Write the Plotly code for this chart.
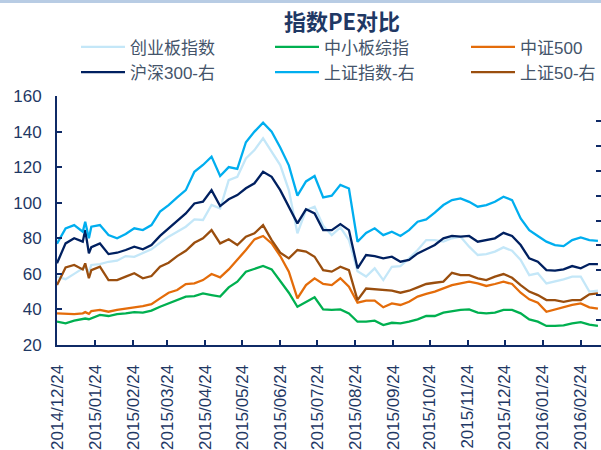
import plotly.graph_objects as go

# ---- data (readings from the reference picture, roughly weekly) ----
dates = [
    "2014-12-24", "2014-12-31", "2015-01-07", "2015-01-14", "2015-01-16", "2015-01-19",
    "2015-01-21", "2015-01-28",
    "2015-02-04", "2015-02-11", "2015-02-18", "2015-02-25", "2015-03-04", "2015-03-11",
    "2015-03-18", "2015-03-25", "2015-04-01", "2015-04-08", "2015-04-15", "2015-04-22",
    "2015-04-29", "2015-05-06", "2015-05-13", "2015-05-20", "2015-05-27", "2015-06-03",
    "2015-06-10", "2015-06-17", "2015-06-24", "2015-07-01", "2015-07-08", "2015-07-15",
    "2015-07-22", "2015-07-29", "2015-08-05", "2015-08-12", "2015-08-19", "2015-08-26",
    "2015-09-02", "2015-09-09", "2015-09-16", "2015-09-23", "2015-09-30", "2015-10-07",
    "2015-10-14", "2015-10-21", "2015-10-28", "2015-11-04", "2015-11-11", "2015-11-18",
    "2015-11-25", "2015-12-02", "2015-12-09", "2015-12-16", "2015-12-23", "2015-12-30",
    "2016-01-06", "2016-01-13", "2016-01-20", "2016-01-27", "2016-02-03", "2016-02-10",
    "2016-02-17", "2016-02-24", "2016-03-02", "2016-03-09",
]

# left axis series
chinext = [58.4, 57.0, 60.0, 63.0, 64.0, 61.0, 65.0, 65.5, 66.8, 67.4, 70.0, 69.6,
           71.9, 73.8, 77.5, 80.9, 83.7, 86.5, 90.6, 90.3, 98.7, 96.8,
           112.7, 114.6, 124.9, 129.6, 136.2, 128.7, 121.2, 107.1, 82.8, 95.9,
           97.8, 87.0, 81.8, 86.1, 79.0, 61.5, 58.5, 63.1, 56.5, 64.0,
           64.4, 68.7, 73.4, 79.0, 79.0, 78.1, 80.0, 80.9, 75.3, 70.6,
           71.1, 72.5, 74.9, 73.0, 67.8, 59.3, 60.3, 54.6, 55.6, 56.9,
           58.4, 58.4, 50.0, 50.5]
sme = [33.1, 32.2, 33.7, 34.8, 34.9, 34.5, 35.0, 36.9, 36.3, 37.4, 37.8, 38.5,
       38.2, 39.3, 41.5, 43.4, 44.9, 47.2, 47.5, 49.0, 48.1, 47.2,
       52.4, 55.6, 61.2, 62.9, 64.4, 62.5, 55.6, 49.4, 41.5, 44.3,
       46.8, 40.0, 39.7, 40.0, 37.8, 33.1, 33.1, 33.7, 31.2, 32.5,
       32.2, 33.1, 34.4, 36.3, 36.3, 38.2, 39.1, 39.7, 40.0, 38.2,
       37.8, 38.2, 39.7, 39.7, 37.8, 34.4, 33.1, 30.7, 30.7, 31.0,
       32.2, 32.9, 31.4, 30.7]
csi500 = [37.8, 37.4, 37.4, 37.8, 38.5, 37.5, 39.1, 39.7, 38.7, 39.7, 40.6, 41.2,
          41.9, 43.0, 46.2, 49.4, 50.9, 54.3, 54.7, 56.5, 59.9, 58.0,
          62.5, 67.8, 73.4, 79.4, 81.3, 77.1, 70.0, 61.2, 46.2, 53.7,
          57.5, 54.3, 53.7, 57.5, 52.8, 43.8, 45.0, 44.9, 41.2, 43.4,
          42.5, 44.3, 47.2, 48.7, 50.0, 51.8, 53.7, 54.7, 55.6, 54.7,
          53.2, 54.3, 55.6, 54.3, 49.4, 45.7, 43.8, 38.7, 40.0, 41.0,
          42.5, 43.4, 41.2, 40.4]

# right axis series
hs300_r = [10.57, 12.16, 12.57, 12.30, 13.23, 11.36, 11.86, 12.16, 11.30, 11.41, 11.63, 11.90,
           11.69, 12.03, 12.76, 13.37, 14.04, 14.57, 15.37, 15.51, 16.44, 15.16,
           15.70, 16.04, 16.59, 16.99, 17.91, 17.51, 16.44, 15.11, 13.77, 14.90,
           14.57, 13.23, 13.23, 13.71, 13.23, 10.16, 11.23, 11.14, 10.96, 11.09,
           10.69, 10.83, 11.36, 11.69, 12.03, 12.57, 12.76, 12.70, 12.76, 12.30,
           12.43, 12.57, 13.01, 12.76, 12.03, 10.96, 10.69, 10.01, 9.97, 10.07,
           10.34, 10.16, 10.50, 10.50]
sh_r = [12.14, 13.37, 13.63, 13.10, 13.90, 12.57, 13.50, 13.63, 12.83, 12.57, 12.91, 13.37,
        13.23, 13.63, 14.71, 15.24, 15.86, 16.44, 17.91, 18.46, 19.13, 17.57,
        18.29, 18.14, 20.29, 21.14, 21.86, 21.14, 19.86, 18.43, 16.00, 17.14,
        17.57, 15.86, 16.00, 16.86, 16.57, 12.29, 13.00, 13.37, 12.83, 13.10,
        12.76, 13.23, 13.90, 14.09, 14.63, 15.24, 15.64, 15.77, 15.50, 15.11,
        15.24, 15.51, 15.91, 15.64, 14.17, 13.23, 12.76, 12.30, 12.03, 11.94,
        12.43, 12.64, 12.43, 12.37]
sz50_r = [8.81, 10.23, 10.43, 10.07, 10.56, 9.36, 10.01, 10.29, 9.21, 9.21, 9.49, 9.76,
          9.36, 9.54, 10.29, 10.61, 11.14, 11.57, 12.21, 12.57, 13.23, 12.16,
          12.49, 12.03, 12.70, 12.97, 13.63, 12.43, 11.41, 10.96, 11.63, 11.50,
          11.09, 10.01, 9.89, 10.29, 10.01, 7.61, 8.54, 8.47, 8.41, 8.36,
          8.20, 8.36, 8.63, 8.90, 9.00, 9.09, 9.80, 9.61, 9.61, 9.36,
          9.21, 9.49, 9.70, 9.40, 8.81, 8.29, 8.01, 7.61, 7.61, 7.47,
          7.61, 7.61, 8.07, 8.14]

tick_dates = ["2014-12-24", "2015-01-24", "2015-02-24", "2015-03-24", "2015-04-24",
              "2015-05-24", "2015-06-24", "2015-07-24", "2015-08-24", "2015-09-24",
              "2015-10-24", "2015-11-24", "2015-12-24", "2016-01-24", "2016-02-24"]
tick_labels = ["2014/12/24", "2015/01/24", "2015/02/24", "2015/03/24", "2015/04/24",
               "2015/05/24", "2015/06/24", "2015/07/24", "2015/08/24", "2015/09/24",
               "2015/10/24", "2015/11/24", "2015/12/24", "2016/01/24", "2016/02/24"]

# ---- styling ----
FONT = "Liberation Sans, Arial, Noto Sans CJK SC, sans-serif"
NAVY = "#0F2A66"
TICKTXT = "#1F3864"
LEGTXT = "#44546A"

series = [
    ("创业板指数", chinext, "#C4E7F8", "y", "legend"),
    ("中小板综指", sme, "#00B050", "y", "legend2"),
    ("中证500", csi500, "#E46C0A", "y", "legend3"),
    ("沪深300-右", hs300_r, "#002060", "y2", "legend"),
    ("上证指数-右", sh_r, "#00AEEF", "y2", "legend2"),
    ("上证50-右", sz50_r, "#9A4E0E", "y2", "legend3"),
]

fig = go.Figure()
for i, (name, vals, color, yax, leg) in enumerate(series):
    fig.add_trace(go.Scatter(
        x=dates, y=vals, name=name, mode="lines",
        line=dict(color=color, width=2.3),
        yaxis=yax, legend=leg, legendgroup="g%d" % i,
    ))

legend_common = dict(
    orientation="v", xref="container", yref="container",
    xanchor="left", yanchor="middle", y=1 - 59.9 / 450,
    font=dict(family=FONT, size=17, color=LEGTXT),
    itemwidth=44, tracegroupgap=5,
    bgcolor="rgba(0,0,0,0)", borderwidth=0, traceorder="normal",
)

fig.update_layout(
    width=601, height=450,
    margin=dict(l=57, r=0, t=96, b=105, autoexpand=False),
    paper_bgcolor="white", plot_bgcolor="white",
    font=dict(family=FONT),
    title=dict(
        text="<b>指数PE对比</b>", xref="container", yref="container",
        x=342 / 601, xanchor="center", y=1 - 22 / 450, yanchor="middle",
        font=dict(family="Noto Sans CJK SC, Liberation Sans, sans-serif", size=22, color="#1F3864"),
    ),
    legend=dict(legend_common, x=76 / 601),
    legend2=dict(legend_common, x=270 / 601),
    legend3=dict(legend_common, x=466 / 601),
    xaxis=dict(
        type="date", range=["2014-12-24", "2016-03-11 12:00"], automargin=False,
        tickmode="array", tickvals=tick_dates, ticktext=tick_labels,
        tickangle=-90, ticks="inside", ticklen=5, tickwidth=2, tickcolor=NAVY,
        showline=True, linecolor=NAVY, linewidth=2, showgrid=False, zeroline=False,
        tickfont=dict(family=FONT, size=17, color=TICKTXT), ticklabelstandoff=11,
    ),
    yaxis=dict(
        range=[20, 160], dtick=20, tick0=20, automargin=False,
        ticks="inside", ticklen=5, tickwidth=2, tickcolor=NAVY,
        showline=True, linecolor=NAVY, linewidth=2, showgrid=False, zeroline=False,
        tickfont=dict(family=FONT, size=17, color=TICKTXT), ticklabelstandoff=10,
    ),
    yaxis2=dict(
        overlaying="y", side="right", range=[4, 24], dtick=2, tick0=4, automargin=False,
        ticks="inside", ticklen=5, tickwidth=2, tickcolor=NAVY,
        showticklabels=False, showline=False, showgrid=False, zeroline=False,
    ),
    shapes=[dict(
        type="rect", xref="paper", yref="paper",
        x0=-57 / 544, x1=1.0, y0=1 + 93 / 249, y1=1 + 96 / 249,
        fillcolor="#B8CCE4", line=dict(width=0), layer="below",
    )],
)

fig.write_html("out.html", config={"displayModeBar": False},
               post_script="document.body.style.margin='0';")
